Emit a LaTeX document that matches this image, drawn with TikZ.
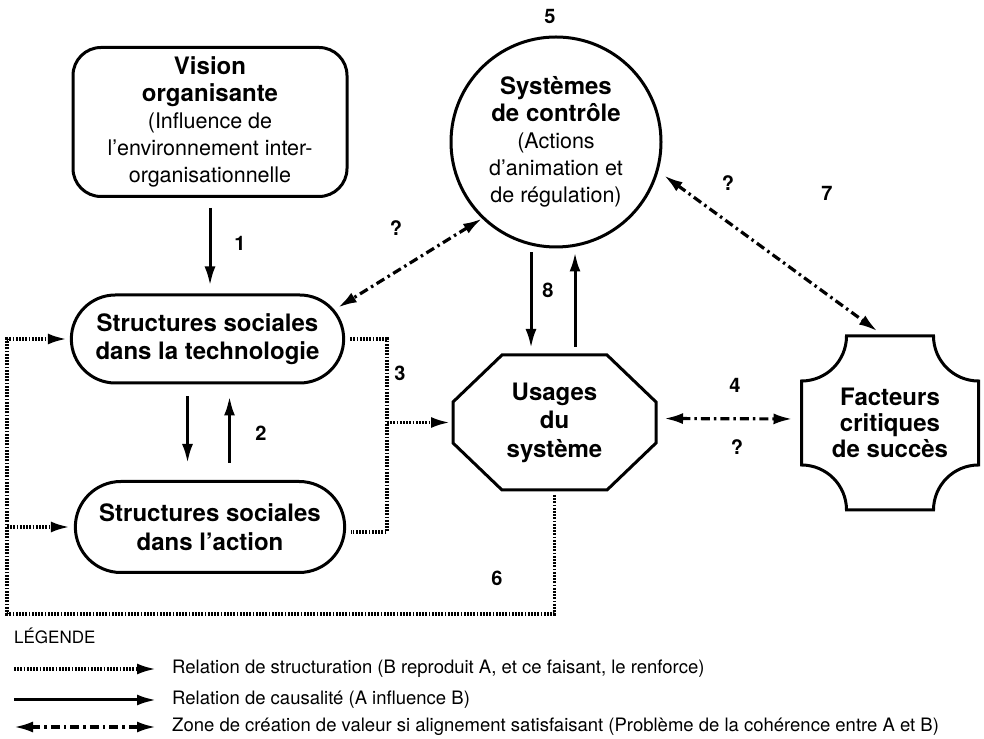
\documentclass[tikz,border=0pt]{standalone}
\usepackage{fontspec}
\setmainfont{TeX Gyre Heros}
\usetikzlibrary{arrows.meta,shapes.misc}
\newcommand{\boxhead}[1]{{\fontsize{24}{27}\selectfont\bfseries #1}}

\begin{document}
\begin{tikzpicture}[x=1pt,y=1pt,
        box/.style={line width=3pt},
        txt/.style={font=\fontsize{21.5}{27}\selectfont,align=center},
        causal/.style={-{Latex[length=19pt,width=11pt]},line width=3pt},
        struct/.style={line width=3.2pt,dash pattern=on 1.8pt off 1.4pt},
        structarrow/.style={struct,-{Latex[length=19pt,width=11pt]}},
        valarrow/.style={{Latex[length=19pt,width=11pt]}-{Latex[length=19pt,width=11pt]},line width=3.2pt,dash pattern=on 9pt off 4pt on 2.5pt off 4pt}]
    \useasboundingbox (0,0) rectangle (984,738);

    % boxes
    \node[box,draw,rounded corners=28pt,minimum width=274pt,minimum height=149pt,txt] (vis) at (210,616)
        {\boxhead{Vision}\\\boxhead{organisante}\\(Influence de\\l'environnement inter-\\organisationnelle};
    \node[box,draw,circle,minimum size=210pt,inner sep=0pt,txt] (ctrl) at (556,596)
        {\boxhead{Systèmes}\\\boxhead{de contrôle}\\(Actions\\d'animation et\\de régulation)};
    \node[box,draw,rounded rectangle,minimum width=279pt,minimum height=88pt,txt,font=\fontsize{21.5}{28}\selectfont] (tech) at (207.5,399)
        {\boxhead{Structures sociales}\\\boxhead{dans la technologie}};
    \node[box,draw,rounded rectangle,minimum width=276pt,minimum height=91pt,txt,font=\fontsize{21.5}{29}\selectfont] (act) at (210,211)
        {\boxhead{Structures sociales}\\\boxhead{dans l'action}};
    \node[minimum width=203pt,minimum height=135pt,inner sep=0pt,outer sep=0pt,txt,font=\fontsize{21.5}{28.5}\selectfont] (usg) at (554.5,315.5)
        {\boxhead{Usages}\\\boxhead{du}\\\boxhead{système}};
    \node[minimum width=177pt,minimum height=174pt,inner sep=0pt,outer sep=0pt,txt,font=\fontsize{21.5}{26}\selectfont] (fcs) at (890,315)
        {\boxhead{Facteurs}\\\boxhead{critiques}\\\boxhead{de succès}};

    % octagon and cut corners
    \draw[box] ([xshift=49pt]usg.north west) -- ([xshift=-49pt]usg.north east) -- ([yshift=-47pt]usg.north east)
        -- ([yshift=47pt]usg.south east) -- ([xshift=-49pt]usg.south east) -- ([xshift=49pt]usg.south west)
        -- ([yshift=47pt]usg.south west) -- ([yshift=-47pt]usg.north west) -- cycle;
    \draw[box] ([xshift=45pt]fcs.north west) -- ([xshift=-45pt]fcs.north east) arc[start angle=180,end angle=270,radius=45pt]
        -- ([yshift=45pt]fcs.south east) arc[start angle=90,end angle=180,radius=45pt]
        -- ([xshift=45pt]fcs.south west) arc[start angle=0,end angle=90,radius=45pt]
        -- ([yshift=-45pt]fcs.north west) arc[start angle=270,end angle=360,radius=45pt] -- cycle;

    % causal arrows
    \draw[causal,shorten <=10pt,shorten >=8pt] (vis.south) -- (vis.south |- tech.north);
    \draw[causal,shorten <=12pt,shorten >=17pt] ([xshift=-20pt]tech.south) -- ([xshift=-20pt]tech.south |- act.north);
    \draw[causal,shorten <=17pt,shorten >=12pt] ([xshift=22pt]tech.south |- act.north) -- ([xshift=22pt]tech.south);
    \draw[causal,shorten <=4pt,shorten >=7pt] ([xshift=-25pt]ctrl.south) -- ([xshift=-25pt]ctrl.south |- usg.north);
    \draw[causal,shorten <=8pt,shorten >=4pt] ([xshift=19pt]ctrl.south |- usg.north) -- ([xshift=19pt]ctrl.south);

    % value arrows
    \draw[valarrow,shorten >=4pt] (ctrl.226) -- (tech.13);
    \draw[valarrow,shorten <=7pt,shorten >=8pt] (ctrl.-16) -- ([xshift=-6pt]fcs.north);
    \draw[valarrow,shorten <=8pt,shorten >=9pt] ([yshift=4pt]usg.east) -- ([yshift=4pt]fcs.west);

    % structuration
    \coordinate (lp) at (7,124);
    \coordinate (brx) at (387,0);
    \draw[structarrow,shorten >=3pt] ([yshift=-5pt]usg.south) |- (lp) |- (tech.west);
    \draw[structarrow,shorten >=4pt] (lp |- act.west) -- (act.west);
    \draw[struct] ([xshift=5pt]tech.east) -- (tech.east -| brx) -- ([yshift=-5pt]act.east -| brx) -- ([xshift=5pt,yshift=-5pt]act.east);
    \draw[structarrow,shorten >=3pt] (usg.west -| brx) -- (usg.west);

    % numbers
    \foreach \t/\x/\y [count=\i] in {1/240/495, 2/261/305, 3/400/365, 4/735/353, ?/737/291, 5/550/721,
            6/497/160, 7/827/545, ?/728/555, ?/396/510, 8/548/448}
        \node[font=\fontsize{20}{24}\selectfont\bfseries] (lab\i) at (\x,\y) {\t};

    % legend
    \node[anchor=west,inner sep=0pt,font=\fontsize{17}{20}\selectfont] (leg) at (14,102) {LÉGENDE};
    \foreach \y/\s/\t [count=\i] in {69/structarrow/{Relation de structuration (B reproduit A, et ce faisant, le renforce)},
            38/causal/{Relation de causalité (A influence B)},
            11/valarrow/{Zone de création de valeur si alignement satisfaisant (Problème de la cohérence entre A et B)}}
    {
        \node[anchor=west,inner sep=0pt,font=\fontsize{18.5}{22}\selectfont] (lt\i) at (172,\y) {\t};
        \coordinate (ls\i) at (14,\y);
        \draw[\s] (ls\i) -- ([xshift=-16pt]lt\i.west);
    }
\end{tikzpicture}
\end{document}
